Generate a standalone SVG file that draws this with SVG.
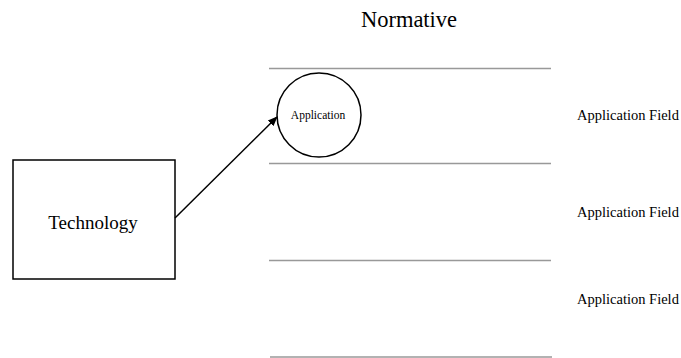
<svg xmlns="http://www.w3.org/2000/svg" width="681" height="358" viewBox="0 0 681 358">
<style>
text{font-family:"Liberation Serif","Times New Roman",serif;fill:#000}
.lane{stroke:#999;stroke-width:1.6}
.field{font-size:14.5px}
</style>
<defs>
<marker id="ah" markerWidth="10" markerHeight="10" refX="9" refY="5" orient="auto" markerUnits="userSpaceOnUse">
<path d="M0,1 L10,5 L0,9 z" fill="#000"/>
</marker>
</defs>
<rect width="681" height="358" fill="#fff"/>
<text x="409" y="27" font-size="22.5" text-anchor="middle">Normative</text>
<g id="lanes">
<line class="lane" x1="269" y1="68.5" x2="551" y2="68.5"/>
<line class="lane" x1="269" y1="163.5" x2="551" y2="163.5"/>
<line class="lane" x1="269" y1="260.5" x2="551" y2="260.5"/>
<line class="lane" x1="270" y1="357" x2="552" y2="357"/>
</g>
<g id="field1"><text class="field" x="577" y="120">Application Field</text></g>
<g id="field2"><text class="field" x="577" y="217">Application Field</text></g>
<g id="field3"><text class="field" x="577" y="304">Application Field</text></g>
<g id="technology">
<rect x="13" y="160" width="162" height="119" fill="#fff" stroke="#000" stroke-width="1.5"/>
<text x="93" y="229" font-size="19" text-anchor="middle">Technology</text>
</g>
<g id="application">
<circle cx="319" cy="115" r="42" fill="#fff" stroke="#000" stroke-width="1.5"/>
<text x="318" y="119" font-size="11.5" text-anchor="middle">Application</text>
</g>
<g id="connectors">
<line x1="175" y1="218" x2="277" y2="117" stroke="#000" stroke-width="1.5" marker-end="url(#ah)"/>
</g>
</svg>
